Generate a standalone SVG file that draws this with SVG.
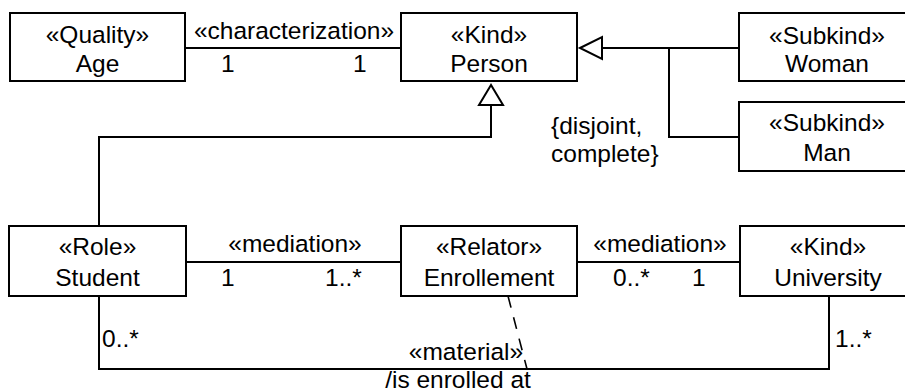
<svg xmlns="http://www.w3.org/2000/svg" width="905" height="392" viewBox="0 0 905 392">
  <style>
    .box { fill: #ffffff; stroke: #000000; stroke-width: 2; }
    .edge { fill: none; stroke: #000000; stroke-width: 2; }
    .head { fill: #ffffff; stroke: #000000; stroke-width: 2; stroke-linejoin: miter; }
    .dash { fill: none; stroke: #000000; stroke-width: 1.6; stroke-dasharray: 12 10; }
    text { font-family: "Liberation Sans", Arial, sans-serif; font-size: 24.5px; fill: #000000; }
    .c { text-anchor: middle; }
  </style>

  <rect width="905" height="392" fill="#ffffff"/>

  <!-- connectors -->
  <g id="connectors">
    <!-- characterization Age - Person -->
    <line class="edge" x1="185" y1="48" x2="401" y2="48"/>
    <text class="c" x="294" y="39">«characterization»</text>
    <text x="221" y="72">1</text>
    <text x="353" y="72">1</text>

    <!-- generalization set Woman/Man -> Person -->
    <line class="edge" x1="739" y1="48" x2="602" y2="48"/>
    <polyline class="edge" points="739,137 669,137 669,48"/>
    <polygon class="head" points="580,48 602,37 602,59"/>
    <text x="551" y="134">{disjoint,</text>
    <text x="551" y="162">complete}</text>

    <!-- generalization Student -> Person -->
    <polyline class="edge" points="99,226 99,137 491,137 491,105"/>
    <polygon class="head" points="491,85 479,105 503,105"/>

    <!-- mediation Student - Enrollement -->
    <line class="edge" x1="186" y1="262" x2="401" y2="262"/>
    <text class="c" x="295" y="252">«mediation»</text>
    <text x="221" y="286">1</text>
    <text x="325" y="286">1..*</text>

    <!-- mediation Enrollement - University -->
    <line class="edge" x1="577" y1="262" x2="740" y2="262"/>
    <text class="c" x="660" y="252">«mediation»</text>
    <text x="613" y="286">0..*</text>
    <text x="692" y="286">1</text>

    <!-- material Student - University -->
    <polyline class="edge" points="99,296 99,369 829,369 829,296"/>
    <text x="102" y="347">0..*</text>
    <text x="835" y="347">1..*</text>
    <text class="c" x="466" y="360">«material»</text>
    <text class="c" x="458" y="388">/is enrolled at</text>
    <line class="dash" x1="508" y1="296" x2="527" y2="369"/>
  </g>

  <!-- classes -->
  <g id="age">
    <rect class="box" x="10" y="13" width="175" height="68"/>
    <text class="c" x="97.5" y="43">«Quality»</text>
    <text class="c" x="97.5" y="72">Age</text>
  </g>

  <g id="person">
    <rect class="box" x="401" y="13" width="176" height="68"/>
    <text class="c" x="489" y="43">«Kind»</text>
    <text class="c" x="489" y="72">Person</text>
  </g>

  <g id="woman">
    <rect class="box" x="739" y="13" width="176" height="68"/>
    <text class="c" x="827" y="44">«Subkind»</text>
    <text class="c" x="827" y="72">Woman</text>
  </g>

  <g id="man">
    <rect class="box" x="739" y="102" width="176" height="69"/>
    <text class="c" x="827" y="131">«Subkind»</text>
    <text class="c" x="827" y="161">Man</text>
  </g>

  <g id="student">
    <rect class="box" x="9" y="226" width="177" height="70"/>
    <text class="c" x="97.5" y="255">«Role»</text>
    <text class="c" x="97.5" y="286">Student</text>
  </g>

  <g id="enrollement">
    <rect class="box" x="401" y="226" width="176" height="70"/>
    <text class="c" x="489" y="255">«Relator»</text>
    <text class="c" x="489" y="286">Enrollement</text>
  </g>

  <g id="university">
    <rect class="box" x="740" y="226" width="176" height="70"/>
    <text class="c" x="828" y="255">«Kind»</text>
    <text class="c" x="828" y="286">University</text>
  </g>
</svg>
